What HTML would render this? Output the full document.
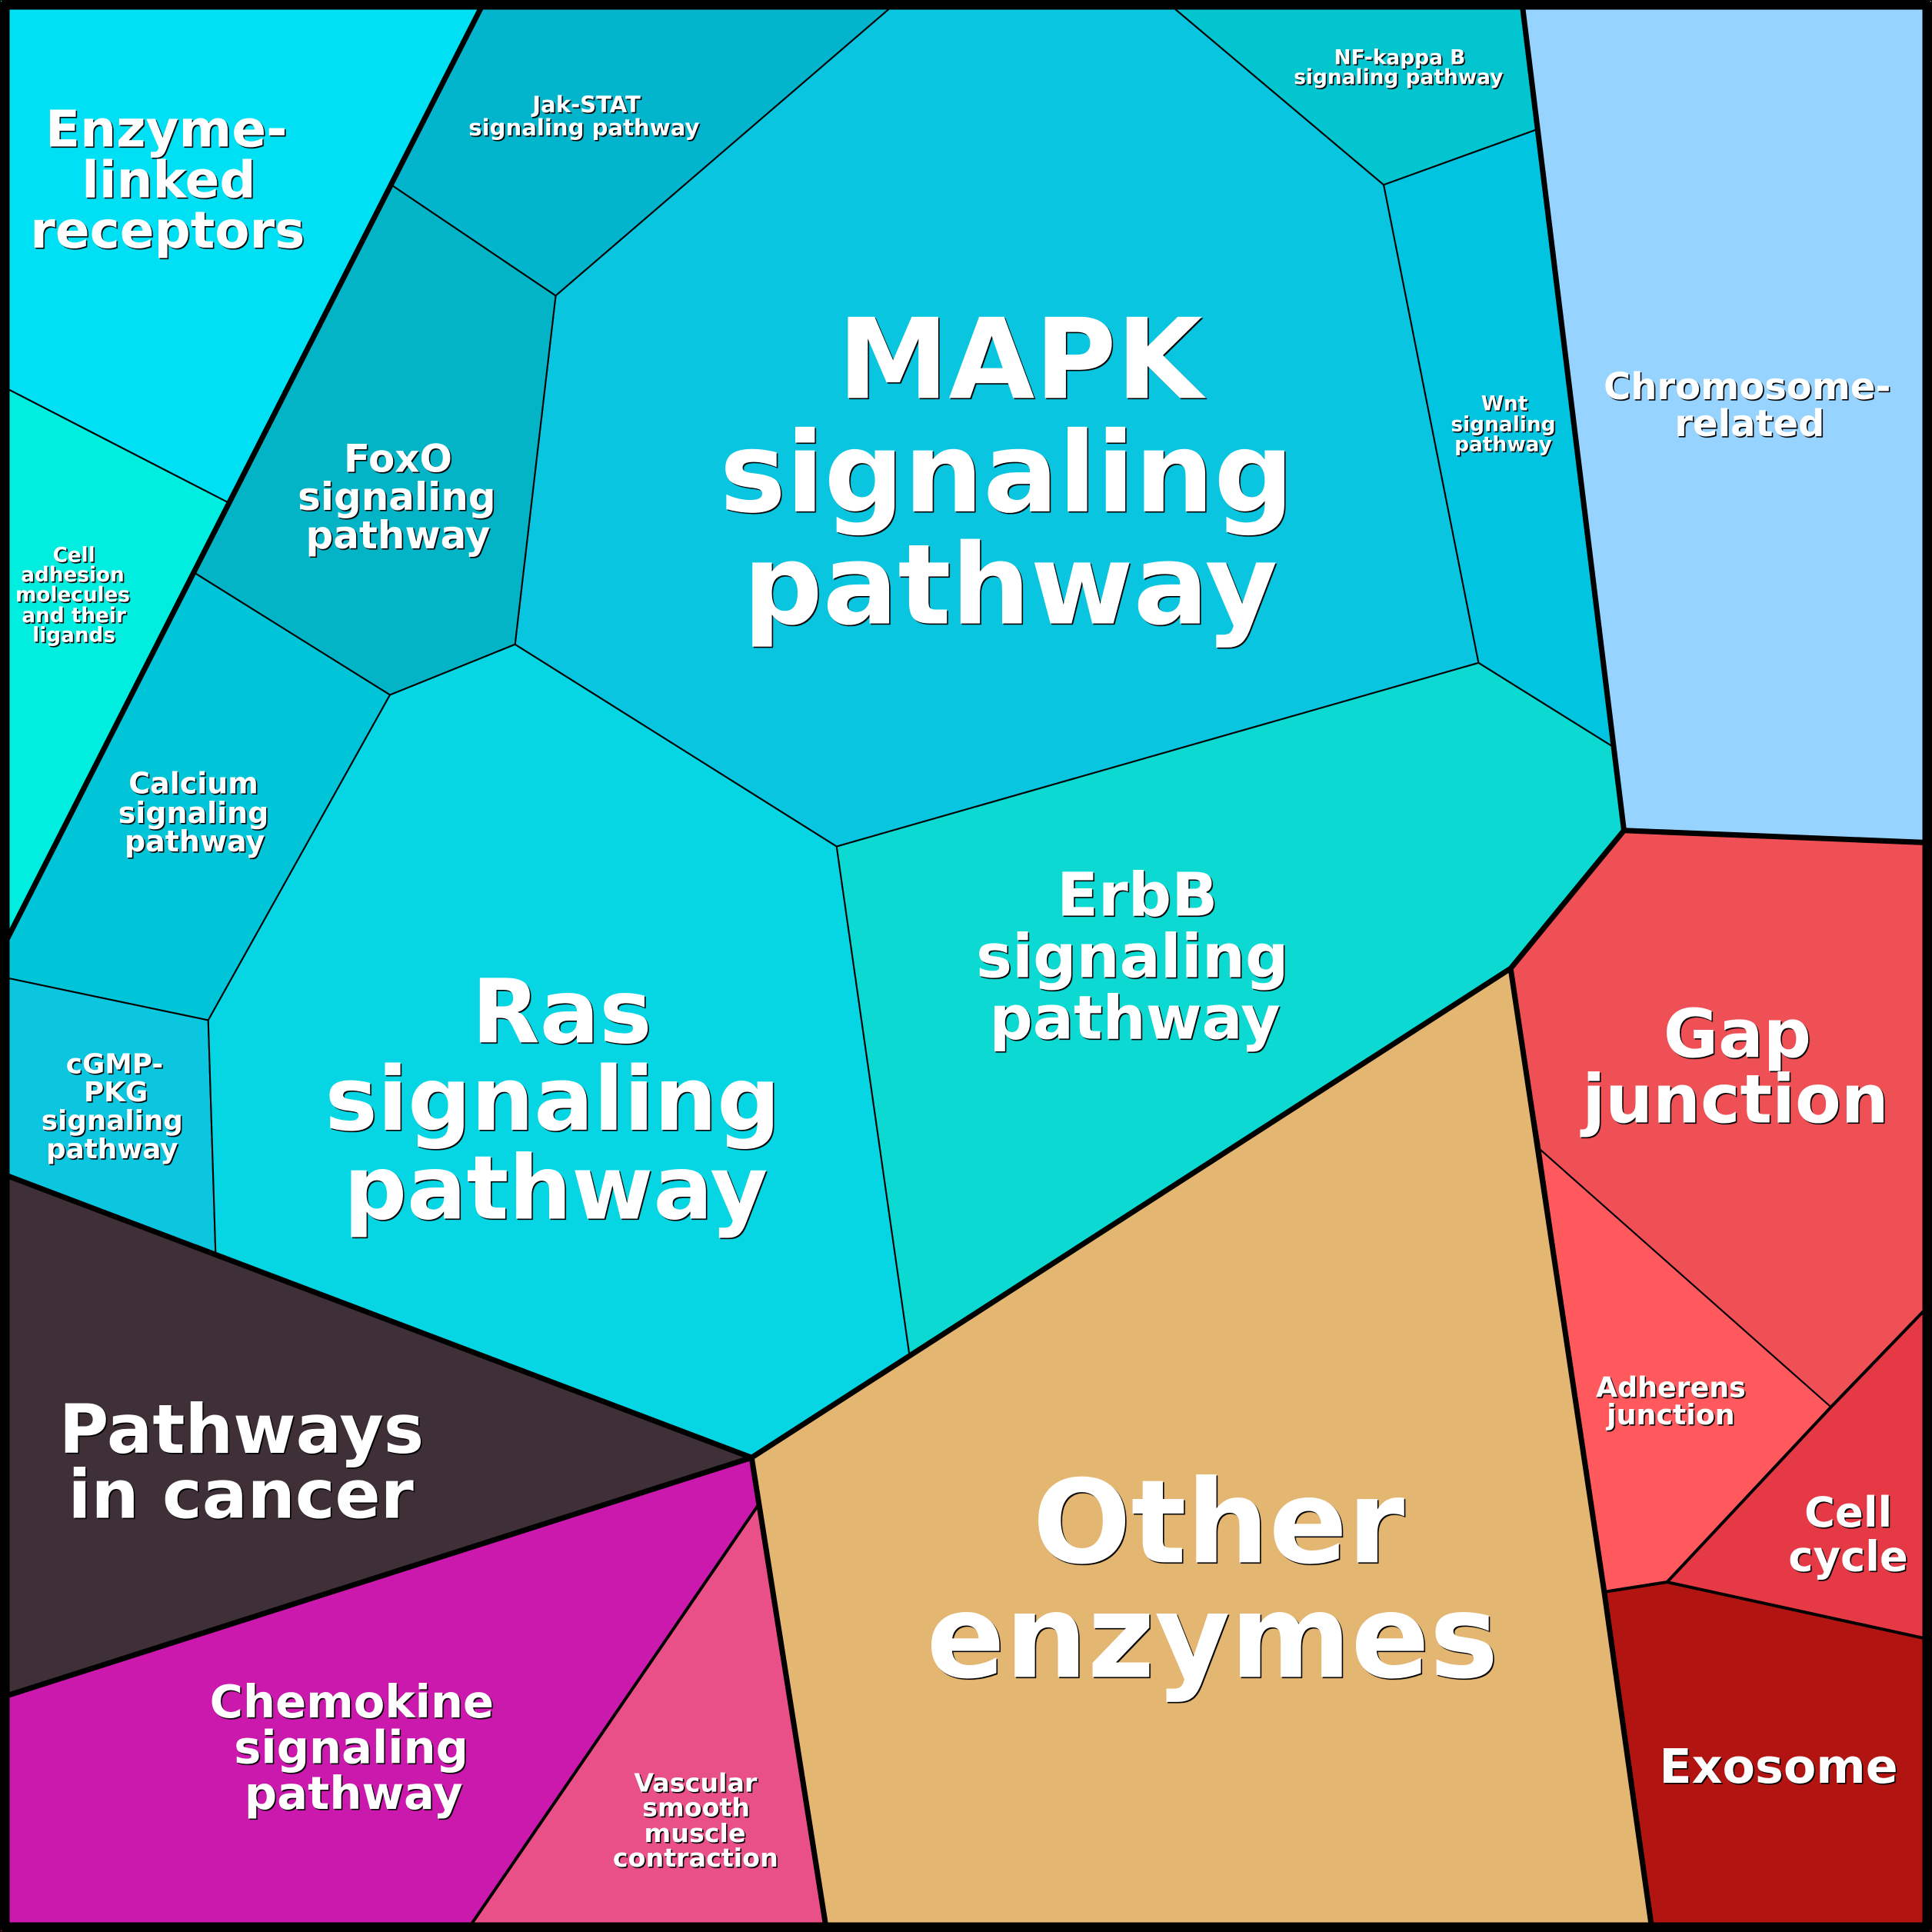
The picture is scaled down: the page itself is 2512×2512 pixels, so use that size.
<!DOCTYPE html>
<html><head><meta charset="utf-8"><style>
html,body{margin:0;padding:0;background:#000}
svg{display:block}
text{font-family:"DejaVu Sans",sans-serif;font-weight:700;fill:#fff;text-anchor:middle}
.s{filter:drop-shadow(1.2px 1.2px 0 #000)}
</style></head><body>
<svg xmlns="http://www.w3.org/2000/svg" width="2512" height="2512" viewBox="0 0 1568 1568">
<rect width="1568" height="1568" fill="#000"/>
<g stroke="#000" stroke-width="1.3" stroke-linejoin="round">
<polygon fill="#00e0f5" points="0,0 393.6,0 317.5,150 185.5,408 0,312.5"/>
<polygon fill="#03b5cc" points="393.6,0 730,0 451,240 317.5,150"/>
<polygon fill="#09c5e0" points="730,0 945,0 1123,150 1200,538 679,687 418,523 451,240"/>
<polygon fill="#03c5cf" points="945,0 1235,0 1247.5,105 1123,150"/>
<polygon fill="#00c4e0" points="1123,150 1247.5,105 1309,606 1200,538"/>
<polygon fill="#03b4c7" points="317.5,150 451,240 418,523 316.5,564 158,465"/>
<polygon fill="#00eee0" points="0,312.5 185.5,408 0,773.6"/>
<polygon fill="#00c4d8" points="158,465 316.5,564 169,828 0,792.5 0,773.6"/>
<polygon fill="#0cc5de" points="0,792.5 169,828 175,1018 0,952"/>
<polygon fill="#06d5e4" points="316.5,564 418,523 679,687 738,1099 610,1183 175,1018 169,828"/>
<polygon fill="#0dd9d3" points="679,687 1200,538 1309,606 1318,674 1226,786 738,1099"/>
<polygon fill="#96d4ff" points="1235,0 1568,0 1568,684 1318,674"/>
<polygon fill="#ee5055" points="1318,674 1568,684 1568,1057 1486,1142 1250,933 1226,786"/>
<polygon fill="#ff595e" points="1250,933 1486,1142 1353,1284 1302,1292"/>
<polygon fill="#e63946" points="1568,1057 1568,1331 1353,1284 1486,1142"/>
<polygon fill="#b21411" points="1302,1292 1353,1284 1568,1331 1568,1568 1341,1568"/>
<polygon fill="#e3b771" points="1226,786 1302,1292 1341,1568 671,1568 610,1183"/>
<polygon fill="#3f2f37" points="0,952 610,1183 0,1378"/>
<polygon fill="#cb18ad" points="0,1378 610,1183 615,1222 378,1568 0,1568"/>
<polygon fill="#ea5088" points="615,1222 671,1568 378,1568"/>
</g>
<g fill="none" stroke="#000" stroke-width="4.4" stroke-linejoin="round">
<line x1="393.6" y1="0" x2="0" y2="773.6"/>
<polyline points="1235,0 1318,674 1226,786 610,1183 0,952"/>
<polyline points="1318,674 1568,684"/>
<polyline points="1226,786 1302,1292 1341,1568"/>
<polyline points="610,1183 671,1568"/>
<polyline points="610,1183 0,1378"/>
<line x1="615" y1="1222" x2="383" y2="1561" stroke-width="2.5"/>
<line x1="1568" y1="1057" x2="1486" y2="1142" stroke-width="2.5"/>
<line x1="1486" y1="1142" x2="1353" y2="1284" stroke-width="2.5"/>
<line x1="1353" y1="1284" x2="1568" y2="1331" stroke-width="2.5"/>
<line x1="1302" y1="1292" x2="1353" y2="1284" stroke-width="2.5"/>
<rect x="3.9" y="3.9" width="1560.2" height="1560.2" stroke-width="7.8"/>
</g>
<g class="s">
<text x="135" y="119" font-size="41.2">Enzyme-</text><text x="137" y="160" font-size="41.2">linked</text><text x="136" y="201" font-size="41.2">receptors</text>
<text x="476" y="91" font-size="18.2">Jak-STAT</text><text x="474" y="110" font-size="18.2">signaling pathway</text>
<text x="1136" y="52" font-size="16.5">NF-kappa B</text><text x="1135" y="68" font-size="16.5">signaling pathway</text>
<text x="828" y="323" font-size="90.4">MAPK</text><text x="817" y="415" font-size="90.4">signaling</text><text x="820" y="506" font-size="90.4">pathway</text>
<text x="1221" y="333" font-size="16.5">Wnt</text><text x="1220" y="350" font-size="16.5">signaling</text><text x="1220" y="366" font-size="16.5">pathway</text>
<text x="323" y="383" font-size="31.2">FoxO</text><text x="322" y="414" font-size="31.2">signaling</text><text x="323" y="445" font-size="31.2">pathway</text>
<text x="1418" y="324" font-size="30">Chromosome-</text><text x="1420" y="354" font-size="30">related</text>
<text x="60" y="456" font-size="16.4">Cell</text><text x="59" y="472" font-size="16.4">adhesion</text><text x="59" y="488" font-size="16.4">molecules</text><text x="60" y="505" font-size="16.4">and their</text><text x="60" y="521" font-size="16.4">ligands</text>
<text x="157" y="644" font-size="23.7">Calcium</text><text x="157" y="668" font-size="23.7">signaling</text><text x="158" y="691" font-size="23.7">pathway</text>
<text x="93" y="871" font-size="22.3">cGMP-</text><text x="94" y="894" font-size="22.3">PKG</text><text x="91" y="917" font-size="22.3">signaling</text><text x="91" y="940" font-size="22.3">pathway</text>
<text x="456" y="846" font-size="71.7">Ras</text><text x="448.5" y="917" font-size="71.7">signaling</text><text x="451" y="989" font-size="71.7">pathway</text>
<text x="923" y="743" font-size="49.2">ErbB</text><text x="919" y="793" font-size="49.2">signaling</text><text x="921" y="843" font-size="49.2">pathway</text>
<text x="1410" y="858" font-size="54.3">Gap</text><text x="1408.5" y="911" font-size="54.3">junction</text>
<text x="196" y="1179" font-size="55">Pathways</text><text x="195.5" y="1232" font-size="54.5">in cancer</text>
<text x="989" y="1268" font-size="94">Other</text><text x="984" y="1361" font-size="94">enzymes</text>
<text x="1356" y="1134" font-size="22.7">Adherens</text><text x="1356" y="1156" font-size="22.7">junction</text>
<text x="1500" y="1239" font-size="34">Cell</text><text x="1500" y="1275" font-size="34">cycle</text>
<text x="1443.5" y="1447" font-size="38.6">Exosome</text>
<text x="285.5" y="1394" font-size="36.9">Chemokine</text><text x="285" y="1431" font-size="36.9">signaling</text><text x="287" y="1468" font-size="36.9">pathway</text>
<text x="564.5" y="1454" font-size="20.8">Vascular</text><text x="565" y="1474" font-size="20.8">smooth</text><text x="564" y="1495" font-size="20.8">muscle</text><text x="564.5" y="1515" font-size="20.8">contraction</text>
</g>
</svg>
</body></html>
